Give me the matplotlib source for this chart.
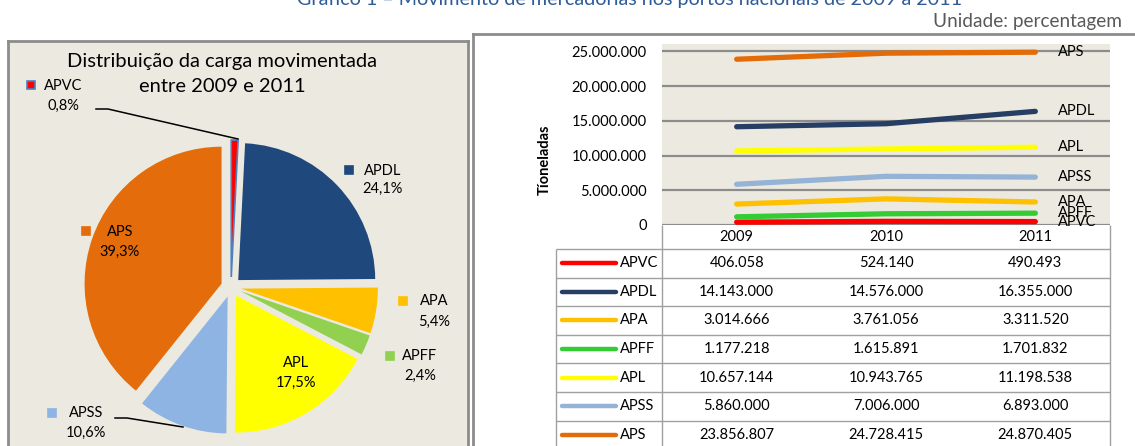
import matplotlib
matplotlib.use('Agg')
import matplotlib.pyplot as plt

plt.rcParams['font.family'] = ['Lato', 'DejaVu Sans']

# dados (toneladas)
portos = ['APVC', 'APDL', 'APA', 'APFF', 'APL', 'APSS', 'APS']
anos = ['2009', '2010', '2011']
apvc = [406058, 524140, 490493]
apdl = [14143000, 14576000, 16355000]
apa = [3014666, 3761056, 3311520]
apff = [1177218, 1615891, 1701832]
apl = [10657144, 10943765, 11198538]
apss = [5860000, 7006000, 6893000]
aps = [23856807, 24728415, 24870405]
series = [apvc, apdl, apa, apff, apl, apss, aps]

# percentagens do grafico circular
pie_pct = [0.8, 24.1, 5.4, 2.4, 17.5, 10.6, 39.3]
yticks = [0, 5000000, 10000000, 15000000, 20000000, 25000000]

cores_linha = ['#FF0000', '#263E63', '#FFC000', '#33CC33', '#FFFF00', '#95B3D7', '#E36C09']
cores_pie = ['#FF0000', '#1F497D', '#FFC000', '#92D050', '#FFFF00', '#8DB4E2', '#E46C0A']
fundo = '#ECEAE0'
cinza = '#8C8C8C'

W, H = 1135, 446
fig = plt.figure(figsize=(W / 100, H / 100), dpi=100)


def caixa(x0, y0, x1, y1):
    # caixa em pixeis (y a partir do topo) -> fracao da figura
    return [x0 / W, 1 - y1 / H, (x1 - x0) / W, (y1 - y0) / H]


def fmt(v):
    return f'{v:,}'.replace(',', '.')


fig.text(630 / W, 1 - 5 / H, 'Gráfico 1 – Movimento de mercadorias nos portos nacionais de 2009 a 2011',
         ha='center', va='baseline', color='#2E5C99', fontsize=14.2)
fig.text(1122 / W, 1 - 22 / H, 'Unidade: percentagem', ha='right', va='center',
         color='#595959', fontsize=13.7)

# ---- painel esquerdo: grafico circular ----
axp = fig.add_axes(caixa(8, 41, 468, 446))
wedges, _ = axp.pie(pie_pct, colors=cores_pie, startangle=90, counterclock=False,
                    radius=137, center=(231, 446 - 287), explode=[10] * 7,
                    wedgeprops=dict(linewidth=0))
wedges[0].set_edgecolor('#4F81BD')
wedges[0].set_linewidth(1.2)
axp.set_frame_on(True)
axp.set_facecolor(fundo)
axp.set_xlim(8, 468)
axp.set_ylim(0, 405)
axp.set_aspect('auto')
axp.set_xticks([])
axp.set_yticks([])
for s in axp.spines.values():
    s.set_color(cinza)
    s.set_linewidth(2)
axp.spines['bottom'].set_visible(False)

axp.text(222, 446 - 61, 'Distribuição da carga movimentada', ha='center', va='center', fontsize=14.5)
axp.text(222, 446 - 87, 'entre 2009 e 2011', ha='center', va='center', fontsize=14.5)

# posicoes dos rotulos: (centro texto x, y nome, y pct, quadrado x, quadrado y)
rotulos = {
    'APVC': (63, 86, 106, 31, 85),
    'APDL': (383, 171, 189, 349, 170),
    'APA': (434, 301, 322, 403, 301),
    'APFF': (420, 356, 376, 390, 356),
    'APL': (296, 363, 383, None, None),
    'APSS': (86, 413, 433, 52, 413),
    'APS': (120, 232, 252, 86, 231),
}
for nome, pct, cor in zip(portos, pie_pct, cores_pie):
    tx, yn, yp, qx, qy = rotulos[nome]
    axp.text(tx, 446 - yn, nome, ha='center', va='center', fontsize=10.5)
    axp.text(tx, 446 - yp, f'{pct:.1f}'.replace('.', ',') + '%', ha='center', va='center', fontsize=10.5)
    if qx is not None:
        borda = '#4F81BD' if nome == 'APVC' else cor
        axp.plot(qx, 446 - qy, marker='s', ms=6, color=cor, mec=borda, mew=1.2)

# linhas de chamada
axp.plot([96, 108, 238], [446 - 109, 446 - 109, 446 - 139], color='black', lw=1.1)
axp.plot([115, 127, 183], [446 - 418, 446 - 418, 446 - 427], color='black', lw=1.1)

# ---- painel direito ----
axr = fig.add_axes(caixa(473, 34, 1150, 460))
axr.set_facecolor('white')
axr.set_xticks([])
axr.set_yticks([])
for s in axr.spines.values():
    s.set_color(cinza)
    s.set_linewidth(2)

ax = fig.add_axes(caixa(662, 44, 1110, 225))
ax.set_facecolor(fundo)
x = range(len(anos))
for nome, vals, cor in zip(portos, series, cores_linha):
    ax.plot(x, vals, color=cor, lw=3.8, solid_capstyle='round')
    ax.text(2.15, vals[-1], nome, va='center', ha='left', fontsize=10.5, clip_on=False)
ax.set_xlim(-0.5, 2.5)
ax.set_ylim(0, 26.05e6)
ax.set_xticks([])
ax.set_yticks(yticks)
ax.set_yticklabels([fmt(v) for v in yticks], fontsize=10.5)
ax.tick_params(axis='y', length=0, pad=11)
ax.yaxis.grid(True, color=cinza, lw=1.6)
ax.set_axisbelow(True)
for s in ax.spines.values():
    s.set_visible(False)
fig.text(545 / W, 1 - 160 / H, 'Tíoneladas', rotation=90, ha='center', va='center',
         fontsize=10.5, fontweight='bold')

# ---- tabela de dados ----
unid = 448 / 3
x_esq = -0.5 - (662 - 556) / unid


def px2x(px):
    return -0.5 + (px - 662) / unid


axt = fig.add_axes(caixa(556, 225, 1110, 446))
axt.set_xlim(x_esq, 2.5)
axt.set_ylim(446, 225)
axt.axis('off')

alt = 28.6
topo = 249
linhas_y = [topo + alt * i for i in range(len(portos) + 1)]
axt.hlines(linhas_y, x_esq, 2.5, color='#A0A0A0', lw=1, clip_on=False)
axt.vlines([x_esq], topo, 460, color='#A0A0A0', lw=1, clip_on=False)
axt.vlines([-0.5, 2.5], 225, 460, color='#A0A0A0', lw=1, clip_on=False)

for i, ano in enumerate(anos):
    axt.text(i, 237, ano, ha='center', va='center', fontsize=10.5)

for r, (nome, vals, cor) in enumerate(zip(portos, series, cores_linha)):
    yc = topo + alt * (r + 0.5)
    axt.plot([px2x(562), px2x(616)], [yc, yc], color=cor, lw=3.2, solid_capstyle='round')
    axt.text(px2x(620), yc, nome, ha='left', va='center', fontsize=10.5)
    for i, v in enumerate(vals):
        axt.text(i, yc, fmt(v), ha='center', va='center', fontsize=10.5)

fig.savefig('out.png', dpi=100)
